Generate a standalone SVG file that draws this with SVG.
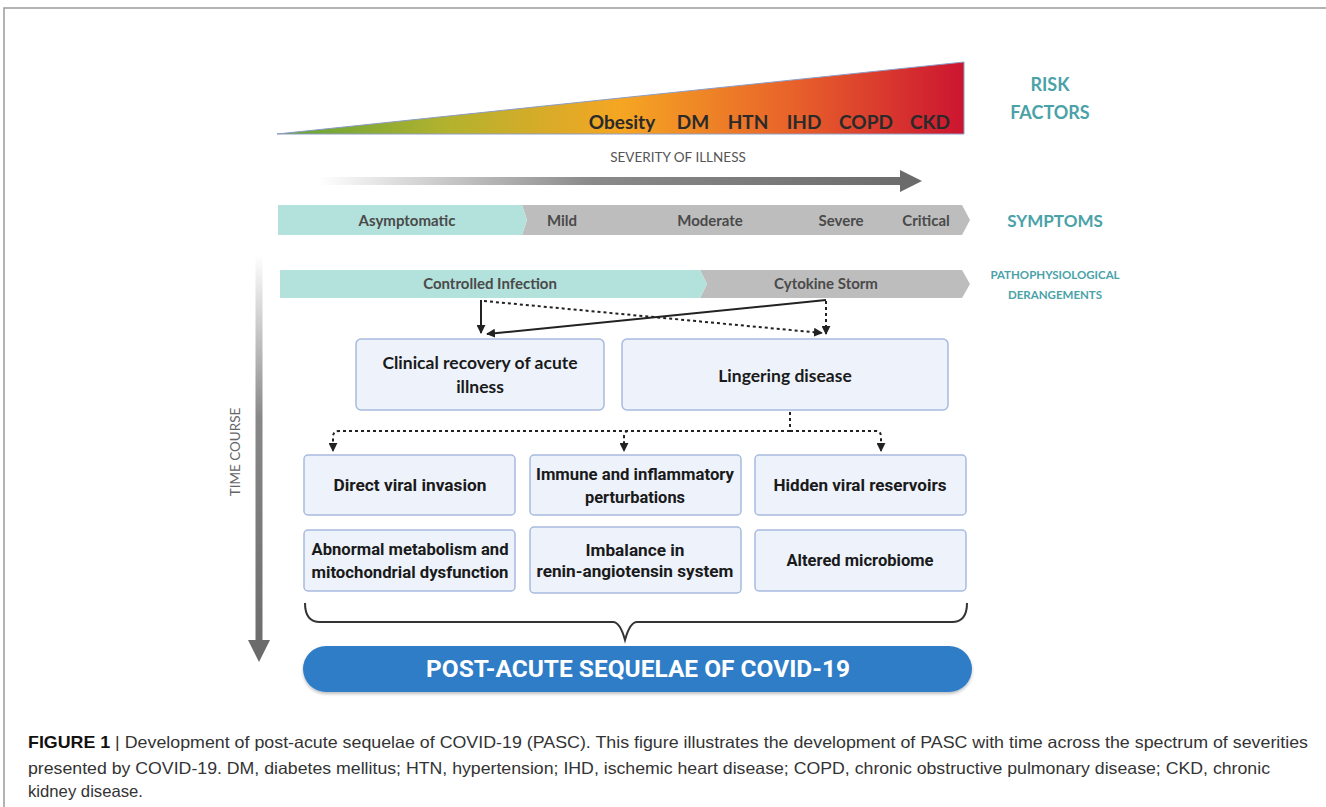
<svg xmlns="http://www.w3.org/2000/svg" width="1326" height="807" viewBox="0 0 1326 807">
<defs>
<linearGradient id="risk" x1="277" y1="0" x2="964" y2="0" gradientUnits="userSpaceOnUse">
<stop offset="0" stop-color="#5fa33a"/>
<stop offset="0.25" stop-color="#b3b22e"/>
<stop offset="0.5" stop-color="#f5a623"/>
<stop offset="0.75" stop-color="#e8622a"/>
<stop offset="1" stop-color="#cc1531"/>
</linearGradient>
<linearGradient id="sev" x1="318" y1="0" x2="922" y2="0" gradientUnits="userSpaceOnUse">
<stop offset="0" stop-color="#ffffff"/>
<stop offset="0.45" stop-color="#8a8a8a"/>
<stop offset="1" stop-color="#6b6b6b"/>
</linearGradient>
<linearGradient id="time" x1="0" y1="255" x2="0" y2="662" gradientUnits="userSpaceOnUse">
<stop offset="0" stop-color="#ffffff"/>
<stop offset="0.4" stop-color="#888888"/>
<stop offset="1" stop-color="#6b6b6b"/>
</linearGradient>
<marker id="ah" viewBox="0 0 10 10" refX="9" refY="5" markerWidth="4.5" markerHeight="4.5" orient="auto" markerUnits="strokeWidth">
<path d="M0,0 L10,5 L0,10 z" fill="#222"/>
</marker>
<filter id="sh" x="-5%" y="-20%" width="110%" height="150%">
<feDropShadow dx="0" dy="2" stdDeviation="1.5" flood-color="#000" flood-opacity="0.25"/>
</filter>
</defs>
<style>
.lbl{font-family:Lato,"Open Sans",sans-serif;fill:#4aa2a8;font-weight:bold;text-anchor:middle}
.rf{font-family:Lato,"Open Sans",sans-serif;font-size:19px;font-weight:bold;fill:#2a2a2a;text-anchor:middle}
.bar{font-family:Lato,"Open Sans",sans-serif;font-size:15px;font-weight:bold;fill:#4a4a4a;text-anchor:middle}
.box{fill:#edf2fb;stroke:#a8bbdf;stroke-width:1.5}
.bt{font-family:Lato,"Open Sans",sans-serif;font-size:17.5px;font-weight:bold;fill:#1a1a1a;text-anchor:middle}
.mt{font-family:Roboto,"Liberation Sans",sans-serif;font-size:17px;font-weight:bold;fill:#1a1a1a;text-anchor:middle}
.cap{font-family:"Liberation Sans",Arial,sans-serif;font-size:16.5px;fill:#333}
.solid{stroke:#222;stroke-width:2;fill:none}
.dot{stroke:#222;stroke-width:2;fill:none;stroke-dasharray:3,3}
</style>
<rect width="1326" height="807" fill="#ffffff"/>
<path d="M4,807 V8 H1326" fill="none" stroke="#9a9a9a" stroke-width="1.5"/>

<g id="risk-factors">
<path d="M277,134 L964,62 L964,134 Z" fill="url(#risk)" stroke="#8d9cc4" stroke-width="1"/>
<text class="rf" x="622" y="129">Obesity</text>
<text class="rf" x="693" y="129">DM</text>
<text class="rf" x="748" y="129">HTN</text>
<text class="rf" x="804" y="129">IHD</text>
<text class="rf" x="866" y="129">COPD</text>
<text class="rf" x="930" y="129">CKD</text>
<text class="lbl" x="1050" y="91" font-size="18">RISK</text>
<text class="lbl" x="1050" y="119" font-size="18">FACTORS</text>
</g>

<g id="severity">
<text x="678" y="162" font-family="Lato,'Open Sans',sans-serif" font-size="13.5" fill="#555" text-anchor="middle">SEVERITY OF ILLNESS</text>
<rect x="318" y="177" width="584" height="8" fill="url(#sev)"/>
<path d="M900,170 L922,181 L900,192 Z" fill="#6b6b6b"/>
</g>

<g id="symptoms">
<path d="M522,205 L962,205 L970,220 L962,235 L522,235 L527,220 Z" fill="#bdbdbd"/>
<path d="M278,205 L522,205 L527,220 L522,235 L278,235 Z" fill="#b3e1dc"/>
<text class="bar" x="407" y="226">Asymptomatic</text>
<text class="bar" x="562" y="226">Mild</text>
<text class="bar" x="710" y="226">Moderate</text>
<text class="bar" x="841" y="226">Severe</text>
<text class="bar" x="926" y="226">Critical</text>
<text class="lbl" x="1055" y="227" font-size="17">SYMPTOMS</text>
</g>

<g id="pathophysiology">
<path d="M700,270 L962,270 L970,284 L962,298 L700,298 L707,284 Z" fill="#bdbdbd"/>
<path d="M280,270 L700,270 L707,284 L700,298 L280,298 Z" fill="#b3e1dc"/>
<text class="bar" x="490" y="289">Controlled Infection</text>
<text class="bar" x="826" y="289">Cytokine Storm</text>
<text class="lbl" x="1055" y="279" font-size="11.5">PATHOPHYSIOLOGICAL</text>
<text class="lbl" x="1055" y="299" font-size="11.5">DERANGEMENTS</text>
</g>

<g id="time-course">
<rect x="255.5" y="255" width="7" height="390" fill="url(#time)"/>
<path d="M248,640 L270,640 L259,662 Z" fill="#6b6b6b"/>
<text transform="translate(240,452) rotate(-90)" font-family="Lato,'Open Sans',sans-serif" font-size="13.5" fill="#666" text-anchor="middle">TIME COURSE</text>
</g>

<g id="connectors">
<path class="solid" d="M481,300 V333" marker-end="url(#ah)"/>
<path class="dot" d="M484,301 L822,333" marker-end="url(#ah)"/>
<path class="solid" d="M826,300 L487,334" marker-end="url(#ah)"/>
<path class="dot" d="M826,301 V334" marker-end="url(#ah)"/>
<path class="dot" d="M790,412 V430"/>
<path class="dot" d="M790,431 H339 Q333,431 333,437 V451" marker-end="url(#ah)"/>
<path class="dot" d="M790,431 H629 Q624,431 624,437 V451" marker-end="url(#ah)"/>
<path class="dot" d="M790,431 H876 Q881,431 881,437 V451" marker-end="url(#ah)"/>
<path d="M305,603 Q305,622 320,622 H613 Q620,622 625,640 Q630,622 637,622 H952 Q967,622 967,603" fill="none" stroke="#333" stroke-width="2"/>
</g>

<g id="clinical-recovery">
<rect class="box" x="356" y="339" width="248" height="71" rx="5"/>
<text class="bt" x="480" y="369">Clinical recovery of acute</text>
<text class="bt" x="480" y="393">illness</text>
</g>
<g id="lingering-disease">
<rect class="box" x="622" y="339" width="326" height="71" rx="5"/>
<text class="bt" x="785" y="382">Lingering disease</text>
</g>

<g id="direct-viral-invasion">
<rect class="box" x="304" y="455" width="211" height="60" rx="4"/>
<text class="mt" x="410" y="491" textLength="153" lengthAdjust="spacingAndGlyphs">Direct viral invasion</text>
</g>
<g id="immune-inflammatory">
<rect class="box" x="530" y="455" width="211" height="60" rx="4"/>
<text class="mt" x="635" y="480" textLength="198" lengthAdjust="spacingAndGlyphs">Immune and inflammatory</text>
<text class="mt" x="635" y="503" textLength="100" lengthAdjust="spacingAndGlyphs">perturbations</text>
</g>
<g id="hidden-viral-reservoirs">
<rect class="box" x="755" y="455" width="211" height="60" rx="4"/>
<text class="mt" x="860" y="491" textLength="173" lengthAdjust="spacingAndGlyphs">Hidden viral reservoirs</text>
</g>
<g id="abnormal-metabolism">
<rect class="box" x="304" y="530" width="211" height="61" rx="4"/>
<text class="mt" x="410" y="555" textLength="197" lengthAdjust="spacingAndGlyphs">Abnormal metabolism and</text>
<text class="mt" x="410" y="578" textLength="197" lengthAdjust="spacingAndGlyphs">mitochondrial dysfunction</text>
</g>
<g id="renin-angiotensin">
<rect class="box" x="530" y="527" width="211" height="66" rx="4"/>
<text class="mt" x="635" y="556" textLength="99" lengthAdjust="spacingAndGlyphs">Imbalance in</text>
<text class="mt" x="635" y="577" textLength="197" lengthAdjust="spacingAndGlyphs">renin-angiotensin system</text>
</g>
<g id="altered-microbiome">
<rect class="box" x="755" y="530" width="211" height="61" rx="4"/>
<text class="mt" x="860" y="566" textLength="147" lengthAdjust="spacingAndGlyphs">Altered microbiome</text>
</g>

<g id="pasc">
<rect x="303" y="646" width="669" height="46" rx="23" fill="#2f7dc6" filter="url(#sh)"/>
<text x="638" y="677" font-family="Roboto,'Liberation Sans',sans-serif" font-size="24" font-weight="bold" fill="#ffffff" text-anchor="middle" textLength="424" lengthAdjust="spacingAndGlyphs">POST-ACUTE SEQUELAE OF COVID-19</text>
</g>

<g id="caption">
<text class="cap" x="28" y="748" textLength="1280" lengthAdjust="spacingAndGlyphs"><tspan font-weight="bold" fill="#111">FIGURE 1</tspan> | Development of post-acute sequelae of COVID-19 (PASC). This figure illustrates the development of PASC with time across the spectrum of severities</text>
<text class="cap" x="28" y="774" textLength="1242" lengthAdjust="spacingAndGlyphs">presented by COVID-19. DM, diabetes mellitus; HTN, hypertension; IHD, ischemic heart disease; COPD, chronic obstructive pulmonary disease; CKD, chronic</text>
<text class="cap" x="28" y="797" textLength="115" lengthAdjust="spacingAndGlyphs">kidney disease.</text>
</g>
</svg>
